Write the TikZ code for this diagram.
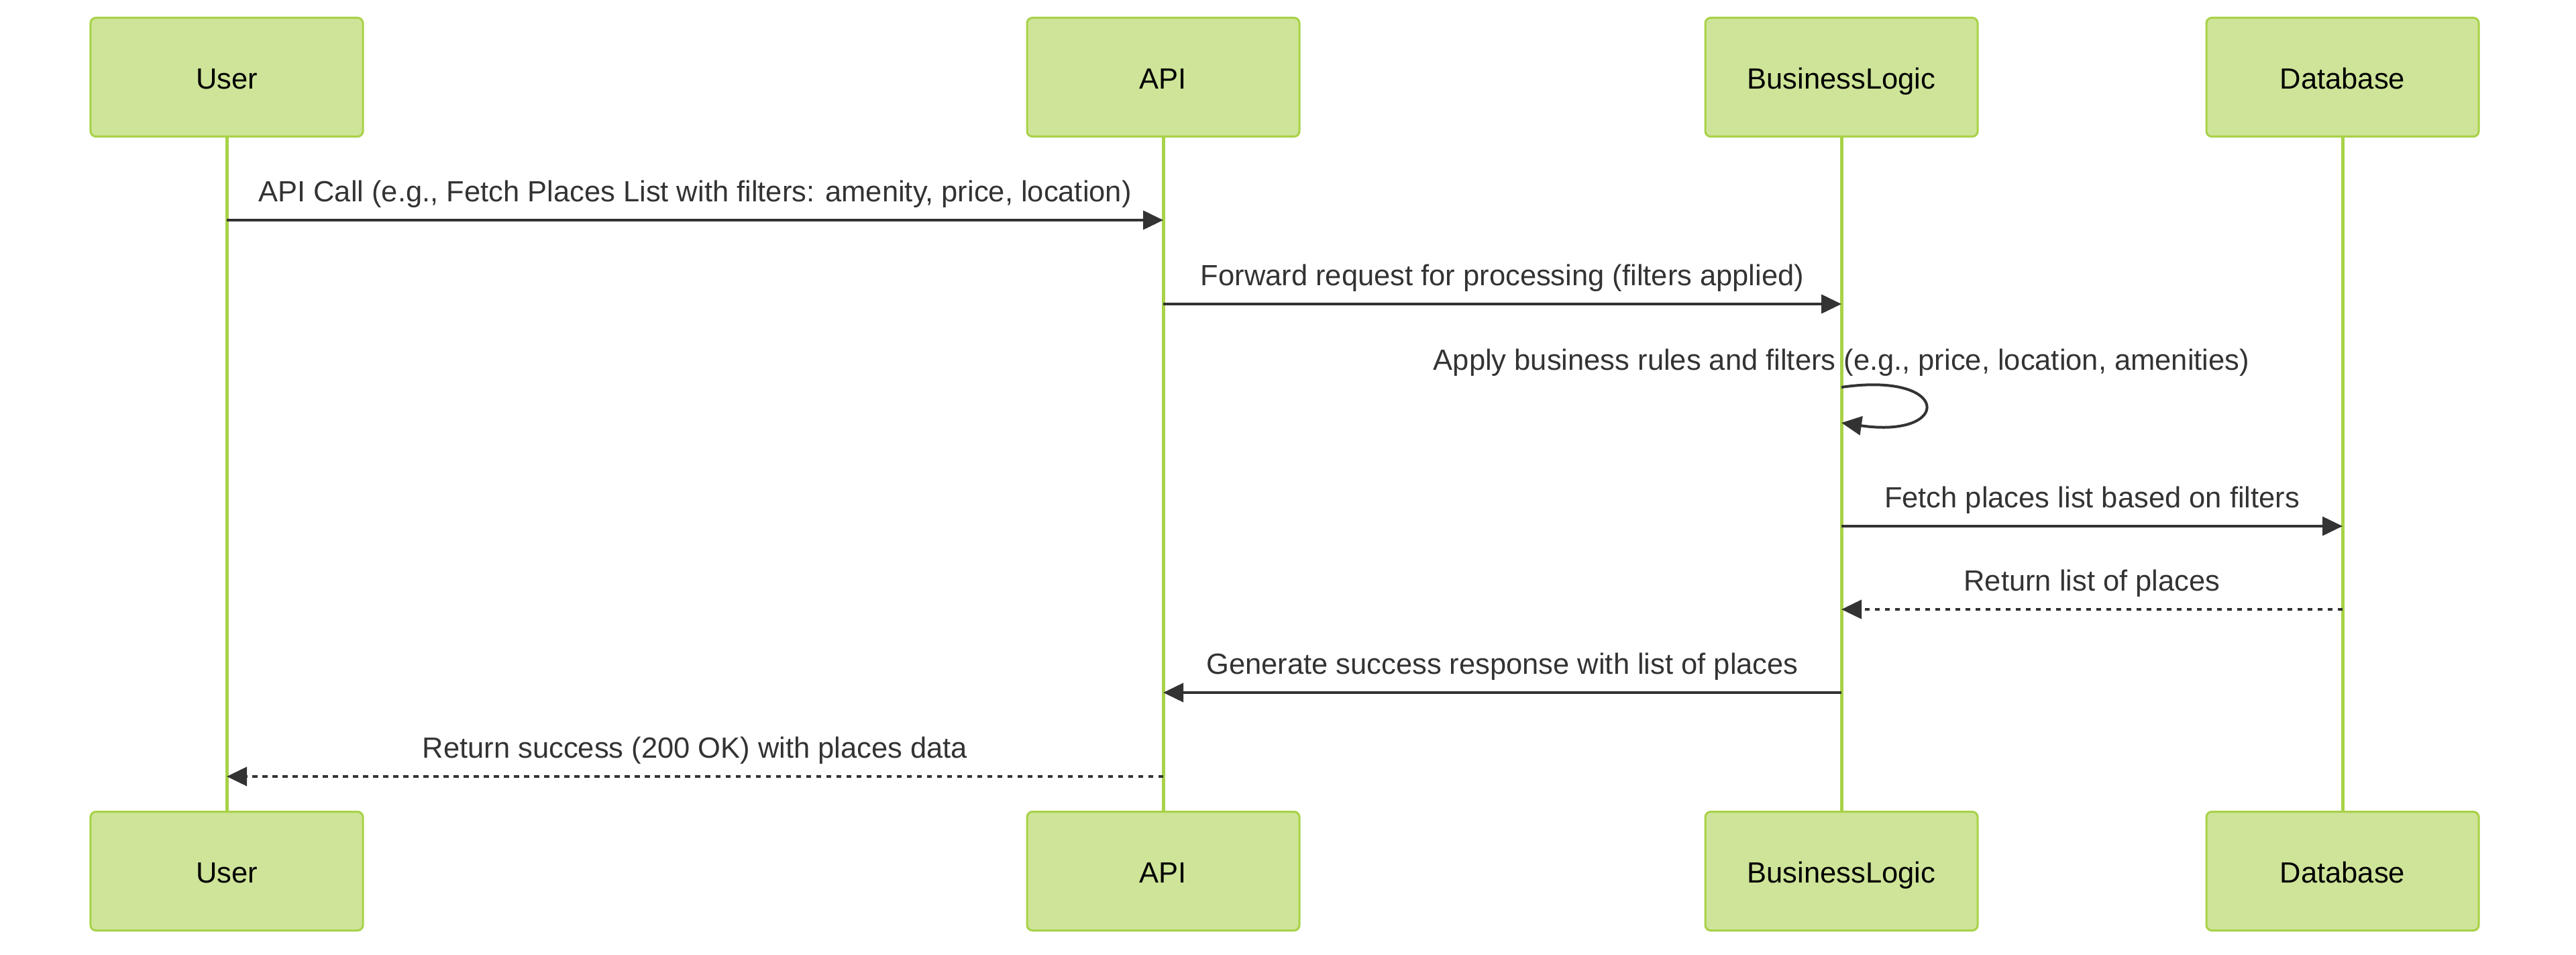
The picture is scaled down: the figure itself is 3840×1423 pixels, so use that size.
\documentclass[tikz,border=0pt]{standalone}
\usepackage{fontspec}
\setmainfont{Liberation Sans}
\usetikzlibrary{arrows.meta}
\definecolor{actorfill}{RGB}{206,228,152}
\definecolor{actorline}{RGB}{168,210,72}
\definecolor{msgcolor}{RGB}{51,51,51}
\begin{document}
\begin{tikzpicture}[x=0.2pt, y=-0.2pt,
        actor/.style={draw=actorline, line width=0.6pt, fill=actorfill, rounded corners=1.6pt,
            minimum width=81.2pt, minimum height=35.4pt, inner sep=0pt,
            text height=7.5pt, text depth=0.5pt,
            font=\fontsize{8.7pt}{10.4pt}\selectfont},
        lifeline/.style={draw=actorline, line width=1pt},
        msg/.style={draw=msgcolor, line width=0.8pt, -{Triangle[length=6pt,width=5.6pt]}},
        reply/.style={msg, dash pattern=on 1.5pt off 1.5pt},
        msgtext/.style={anchor=base, yshift=5.5pt, text=msgcolor, inner sep=0pt,
            font=\fontsize{8.7pt}{10.4pt}\selectfont}]
        \useasboundingbox (0,0) rectangle (3840,1423);
        \foreach \name/\x/\txt in {user/338/User, api/1734/API, logic/2745/BusinessLogic, db/3492/Database} {
            \node [actor] (\name-top) at (\x,115) {\txt};
            \node [actor] (\name-bot) at (\x,1298) {\txt};
            \draw [lifeline] (\name-top) -- (\name-bot);
        }

        \draw [msg] (user-top |- 0,328) -- (api-top |- 0,328)
            node [msgtext, midway] {API Call (e.g., Fetch Places List with filters: amenity, price, location)};
        \draw [msg] (api-top |- 0,453) -- (logic-top |- 0,453)
            node [msgtext, midway] {Forward request for processing (filters applied)};
        \coordinate (loop-a) at (logic-top |- 0,577);
        \coordinate (loop-b) at (logic-top |- 0,630);
        \node [msgtext, yshift=-0.4pt] (loop-text) at (loop-a) {Apply business rules and filters (e.g., price, location, amenities)};
        \draw [msg] (loop-a) .. controls +(165,-24) and +(165,24) .. (loop-b);
        \draw [msg] (logic-top |- 0,784) -- (db-top |- 0,784)
            node [msgtext, midway] {Fetch places list based on filters};
        \draw [reply] (db-top |- 0,908) -- (logic-top |- 0,908)
            node [msgtext, midway] {Return list of places};
        \draw [msg] (logic-top |- 0,1032) -- (api-top |- 0,1032)
            node [msgtext, midway] {Generate success response with list of places};
        \draw [reply] (api-top |- 0,1157) -- (user-top |- 0,1157)
            node [msgtext, midway] {Return success (200 OK) with places data};
\end{tikzpicture}
\end{document}
